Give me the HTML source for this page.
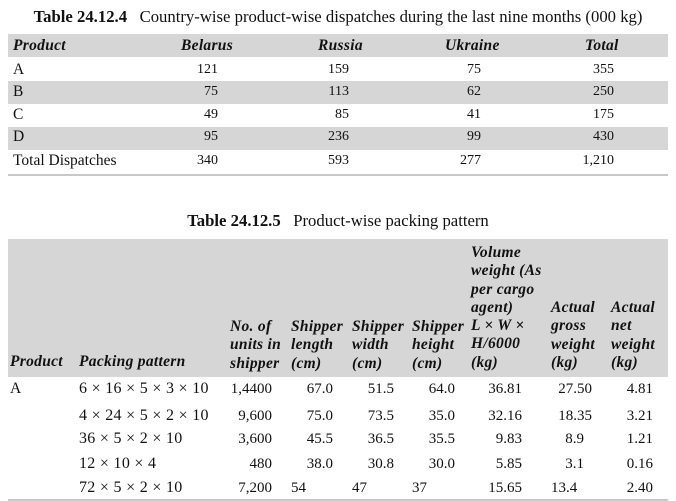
<!DOCTYPE html>
<html><head><meta charset="utf-8"><style>
html,body{margin:0;padding:0;background:#fff;width:676px;height:501px;overflow:hidden;position:relative;font-family:"Liberation Serif",serif;font-size:14px;color:#111}
.a{position:absolute;white-space:nowrap;line-height:16px}
.r{position:absolute;white-space:nowrap;line-height:16px;text-align:right}
.h{font-weight:bold;font-style:italic;font-size:15.5px;letter-spacing:0.3px}
.t{font-size:15.5px}
.tt{font-size:16.7px}
.p{font-size:16px;letter-spacing:0.3px}
.n .r{font-size:15px}
.bg{position:absolute;background:#d6d6d6;left:8px;width:660px}
.rule{position:absolute;background:#c8c8c8;left:8px;width:660px;height:2px}
</style></head><body>
<div class="a tt" style="left:0;width:676px;text-align:center;top:9px"><b>Table 24.12.4</b>&nbsp;&nbsp;&nbsp;Country-wise product-wise dispatches during the last nine months (000 kg)</div>
<div class="bg" style="top:34px;height:23px"></div>
<div class="bg" style="top:81px;height:23px"></div>
<div class="bg" style="top:127px;height:23px"></div>
<div class="rule" style="top:174px"></div>
<div class="a h" style="left:13px;top:38px">Product</div>
<div class="a h" style="left:181px;top:38px">Belarus</div>
<div class="a h" style="left:318px;top:38px">Russia</div>
<div class="a h" style="left:445px;top:38px">Ukraine</div>
<div class="a h" style="left:585px;top:38px">Total</div>
<div class="a t" style="left:13px;top:62px">A</div><div class="r" style="right:458px;top:62px">121</div><div class="r" style="right:327px;top:62px">159</div><div class="r" style="right:195px;top:62px">75</div><div class="r" style="right:62px;top:62px">355</div>
<div class="a t" style="left:13px;top:84px">B</div><div class="r" style="right:458px;top:84px">75</div><div class="r" style="right:327px;top:84px">113</div><div class="r" style="right:195px;top:84px">62</div><div class="r" style="right:62px;top:84px">250</div>
<div class="a t" style="left:13px;top:107px">C</div><div class="r" style="right:458px;top:107px">49</div><div class="r" style="right:327px;top:107px">85</div><div class="r" style="right:195px;top:107px">41</div><div class="r" style="right:62px;top:107px">175</div>
<div class="a t" style="left:13px;top:129px">D</div><div class="r" style="right:458px;top:129px">95</div><div class="r" style="right:327px;top:129px">236</div><div class="r" style="right:195px;top:129px">99</div><div class="r" style="right:62px;top:129px">430</div>
<div class="a t" style="left:13px;top:153px">Total Dispatches</div><div class="r" style="right:458px;top:153px">340</div><div class="r" style="right:327px;top:153px">593</div><div class="r" style="right:195px;top:153px">277</div><div class="r" style="right:62px;top:153px">1,210</div>

<div class="a tt" style="left:0;width:676px;text-align:center;top:213px"><b>Table 24.12.5</b>&nbsp;&nbsp;&nbsp;Product-wise packing pattern</div>
<div class="bg" style="top:239px;height:138px"></div>
<div class="rule" style="top:499px"></div>
<div class="a h" style="left:10px;top:354px">Product</div>
<div class="a h" style="left:79px;top:354px">Packing pattern</div>
<div class="a h" style="left:230px;top:318px;line-height:18.3px">No. of<br>units in<br>shipper</div>
<div class="a h" style="left:291px;top:318px;line-height:18.3px">Shipper<br>length<br>(cm)</div>
<div class="a h" style="left:352px;top:318px;line-height:18.3px">Shipper<br>width<br>(cm)</div>
<div class="a h" style="left:412px;top:318px;line-height:18.3px">Shipper<br>height<br>(cm)</div>
<div class="a h" style="left:471px;top:244px;line-height:18.3px">Volume<br>weight (As<br>per cargo<br>agent)<br>L × W ×<br>H/6000<br>(kg)</div>
<div class="a h" style="left:551px;top:299px;line-height:18.3px">Actual<br>gross<br>weight<br>(kg)</div>
<div class="a h" style="left:611px;top:299px;line-height:18.3px">Actual<br>net<br>weight<br>(kg)</div>
<div class="n">
<div class="a t" style="left:10px;top:381px">A</div>
<div class="a p" style="left:79px;top:381px">6 × 16 × 5 × 3 × 10</div><div class="r" style="right:404px;top:381px">1,4400</div><div class="r" style="right:343px;top:381px">67.0</div><div class="r" style="right:282px;top:381px">51.5</div><div class="r" style="right:221px;top:381px">64.0</div><div class="r" style="right:154px;top:381px">36.81</div><div class="r" style="right:84px;top:381px">27.50</div><div class="r" style="right:23px;top:381px">4.81</div>
<div class="a p" style="left:79px;top:408px">4 × 24 × 5 × 2 × 10</div><div class="r" style="right:404px;top:408px">9,600</div><div class="r" style="right:343px;top:408px">75.0</div><div class="r" style="right:282px;top:408px">73.5</div><div class="r" style="right:221px;top:408px">35.0</div><div class="r" style="right:154px;top:408px">32.16</div><div class="r" style="right:84px;top:408px">18.35</div><div class="r" style="right:23px;top:408px">3.21</div>
<div class="a p" style="left:79px;top:431px">36 × 5 × 2 × 10</div><div class="r" style="right:404px;top:431px">3,600</div><div class="r" style="right:343px;top:431px">45.5</div><div class="r" style="right:282px;top:431px">36.5</div><div class="r" style="right:221px;top:431px">35.5</div><div class="r" style="right:154px;top:431px">9.83</div><div class="r" style="right:92px;top:431px">8.9</div><div class="r" style="right:23px;top:431px">1.21</div>
<div class="a p" style="left:79px;top:456px">12 × 10 × 4</div><div class="r" style="right:404px;top:456px">480</div><div class="r" style="right:343px;top:456px">38.0</div><div class="r" style="right:282px;top:456px">30.8</div><div class="r" style="right:221px;top:456px">30.0</div><div class="r" style="right:154px;top:456px">5.85</div><div class="r" style="right:92px;top:456px">3.1</div><div class="r" style="right:23px;top:456px">0.16</div>
<div class="a p" style="left:79px;top:480px">72 × 5 × 2 × 10</div><div class="r" style="right:404px;top:480px">7,200</div><div class="a" style="left:291px;top:480px;font-size:15px">54</div><div class="a" style="left:352px;top:480px;font-size:15px">47</div><div class="a" style="left:412px;top:480px;font-size:15px">37</div><div class="r" style="right:154px;top:480px">15.65</div><div class="a" style="left:551px;top:480px;font-size:15px">13.4</div><div class="r" style="right:23px;top:480px">2.40</div>
</div>
</body></html>
